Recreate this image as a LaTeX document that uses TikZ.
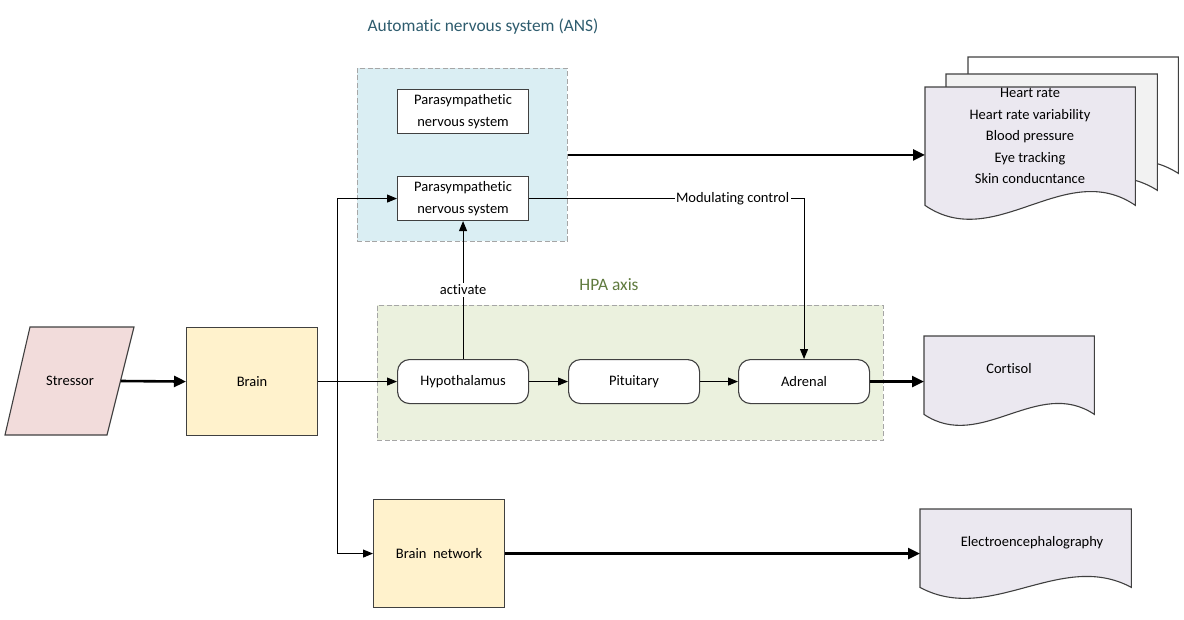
\documentclass[tikz,border=0pt]{standalone}
\usepackage{fontspec}
\setmainfont[Ligatures=NoCommon]{Carlito}
\usetikzlibrary{arrows.meta,calc}
\definecolor{ansfill}{HTML}{DAEEF3}
\definecolor{hpafill}{HTML}{EBF1DE}
\definecolor{strfill}{HTML}{F2DCDB}
\definecolor{brainfill}{HTML}{FFF2CC}
\definecolor{docfill}{HTML}{EBE8F0}
\definecolor{docmid}{HTML}{F2F2F2}
\definecolor{grpline}{HTML}{A6A6A6}
\definecolor{boxline}{HTML}{404040}
\definecolor{titleblue}{HTML}{2E5C6E}
\definecolor{hpatext}{HTML}{5F7A3E}
\newcommand\docpath[3]{%
  \filldraw[docline, fill=#3] (#1.north west) -- (#1.north east) -- (#1.south east)
    .. controls ($(#1.south east)!1/3!(#1.south west)+(0,-#2)$) and ($(#1.south east)!2/3!(#1.south west)+(0,#2)$) .. (#1.south west) -- cycle;}
\begin{document}
\begin{tikzpicture}[x=1pt,y=-1pt,
  every node/.style={font=\fontsize{14.5}{21.5}\selectfont, inner sep=0pt},
  grp/.style={draw=grpline, dash pattern=on 5pt off 2.5pt, line width=0.9pt, fill=#1, anchor=north west},
  box/.style={draw=boxline, line width=1.1pt, fill=white, minimum width=131, minimum height=44, align=center, anchor=north west},
  rbox/.style={box, rounded corners=12pt},
  sq/.style={draw=boxline, line width=1.1pt, fill=brainfill, minimum width=131, minimum height=108, anchor=north west},
  docarea/.style={draw=none, anchor=north west},
  docline/.style={draw=boxline, line width=1.1pt},
  lab/.style={fill=white, inner xsep=1.5pt, inner ysep=2pt},
  thinarrow/.style={line width=1pt, -{Triangle[length=10pt,width=8pt]}},
  thickarrow/.style={line width=2.6pt, -{Triangle[length=12pt,width=11pt]}},
  grptitle/.style={font=\fontsize{17.4}{20}\selectfont}
]
\useasboundingbox (0,0) rectangle (1184,619);

% groups
\node[grp=ansfill, minimum width=210, minimum height=173] (ans) at (357,68) {};
\node[grp=hpafill, minimum width=506, minimum height=135] (hpa) at (377,305) {};
\node[grptitle, text=titleblue] (anstitle) at (483,27) {Automatic nervous system (ANS)};
\node[grptitle, text=hpatext] (hpatitle) at (609,285) {HPA axis};

% stressor (parallelogram)
\filldraw[draw=boxline, line width=1.1pt, fill=strfill] (30,327) -- (134,327) -- (107,435) -- (5,435) -- cycle;
\node[draw=none, minimum width=101, minimum height=108] (str) at (70,381) {Stressor};

% main nodes
\node[sq] (brain) at (186,327) {Brain};
\node[sq] (bnet) at (373,499) {Brain~ network};
\node[box] (para1) at (397,89) {Parasympathetic\\nervous system};
\node[box] (para2) at (397,176) {Parasympathetic\\nervous system};
\node[rbox] (hyp) at (397,359) {Hypothalamus};
\node[rbox] (pit) at (568,359) {Pituitary};
\node[rbox] (adr) at (738,359) {Adrenal};

% documents
\node[docarea, minimum width=210, minimum height=116] (back) at (968,57) {};
\docpath{back}{45}{white}
\node[docarea, minimum width=211, minimum height=116] (mid) at (946,74) {};
\docpath{mid}{45}{docmid}
\node[docarea, minimum width=210, minimum height=118] (front) at (925,87) {};
\docpath{front}{48}{docfill}
\node[align=center] (frontT) at (1030,136) {Heart rate\\Heart rate variability\\Blood pressure\\Eye tracking\\Skin conducntance};

\node[docarea, minimum width=170, minimum height=78] (cort) at (924,336) {};
\docpath{cort}{38}{docfill}
\node (cortT) at (1009,369) {Cortisol};

\node[docarea, minimum width=211, minimum height=78] (eeg) at (920,509) {};
\docpath{eeg}{38}{docfill}
\node (eegT) at (1032,543) {Electroencephalography};

% connectors
\draw[thickarrow] (str.east) -- (brain.west);
\draw[thinarrow] (brain.east) -- (hyp.west);
\coordinate (br) at (337,381);
\draw[thinarrow] (br) |- (para2.west);
\draw[thinarrow] (br) |- (bnet.west);
\draw[thinarrow] (hyp.east) -- (pit.west);
\draw[thinarrow] (pit.east) -- (adr.west);
\draw[thinarrow] (hyp.north) -- node[lab] {activate} (para2.south);
\draw[thinarrow] (para2.east) -- node[pos=0.74, lab] {Modulating control} (para2.east -| adr.north) -- (adr.north);
\draw[thickarrow] (ans.east) -- (ans.east -| front.west);
\draw[thickarrow] (adr.east) -- (adr.east -| cort.west);
\draw[thickarrow] (bnet.east) -- (bnet.east -| eeg.west);
\end{tikzpicture}
\end{document}
